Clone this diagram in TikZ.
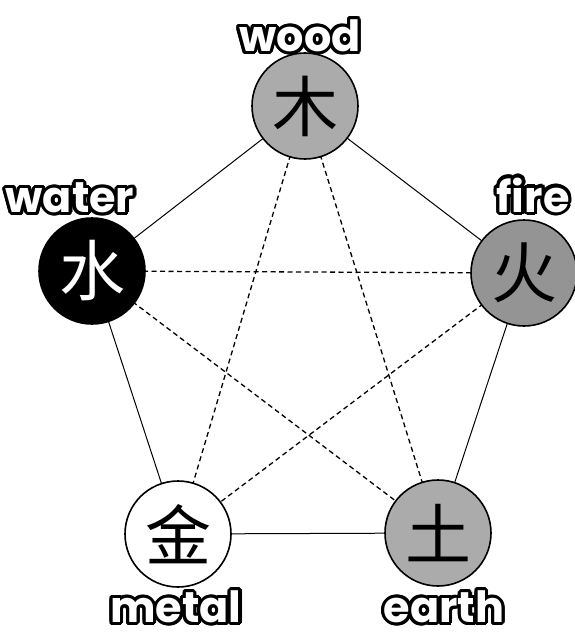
\documentclass[tikz,border=0pt]{standalone}
\usepackage{fontspec}
\newfontfamily\cjk{Noto Sans CJK SC}
\newfontfamily\lblfont{Poppins}[BoldFont=* Bold]
\usetikzlibrary{calc}
\tikzset{
  elem/.style={circle, draw=black, line width=1.6pt, minimum size=106pt, inner sep=0pt, font=\cjk\fontsize{66}{66}\selectfont},
  solidedge/.style={draw=black, line width=1pt},
  dashedge/.style={draw=black, line width=1.3pt, dash pattern=on 5pt off 3.5pt},
  lbl/.style={font=\lblfont\bfseries\fontsize{43}{43}\selectfont, inner sep=0pt}
}
\newcommand\bubblelabel[3]{%
  \foreach \a in {0,20,...,340} {\node[lbl, text=black] at ($(#2)+(\a:3.2pt)$) {#3};}
  \node[lbl, text=white] (#1) at (#2) {#3};
}
\begin{document}
\begin{tikzpicture}[x=1pt,y=-1pt]
\useasboundingbox (0,0) rectangle (575,634);
\fill[white] (0,0) rectangle (575,634);
\coordinate (pwood) at (305,106);
\coordinate (pwater) at (92,271);
\coordinate (pfire) at (524,273);
\coordinate (pmetal) at (178,534);
\coordinate (pearth) at (438,533);
% edges
\path[solidedge] (pwood) -- (pfire) -- (pearth) -- (pmetal) -- (pwater) -- cycle;
\path[dashedge] (pwood) -- (pmetal);
\path[dashedge] (pwood) -- (pearth);
\path[dashedge] (pwater) -- (pfire);
\path[dashedge] (pwater) -- (pearth);
\path[dashedge] (pfire) -- (pmetal);
% nodes
\node[elem, fill=black!33] (wood) at (pwood) {木};
\node[elem, fill=black, text=white] (water) at (pwater) {水};
\node[elem, fill=black!42] (fire) at (pfire) {火};
\node[elem, fill=white] (metal) at (pmetal) {金};
\node[elem, fill=black!33] (earth) at (pearth) {土};
% labels
\coordinate (lwood) at (300,36);
\coordinate (lwater) at (70,198);
\coordinate (lfire) at (533,195);
\coordinate (lmetal) at (176,607);
\coordinate (learth) at (444,607);
\bubblelabel{woodlbl}{lwood}{wood}
\bubblelabel{waterlbl}{lwater}{water}
\bubblelabel{firelbl}{lfire}{fire}
\bubblelabel{metallbl}{lmetal}{metal}
\bubblelabel{earthlbl}{learth}{earth}
\end{tikzpicture}
\end{document}
